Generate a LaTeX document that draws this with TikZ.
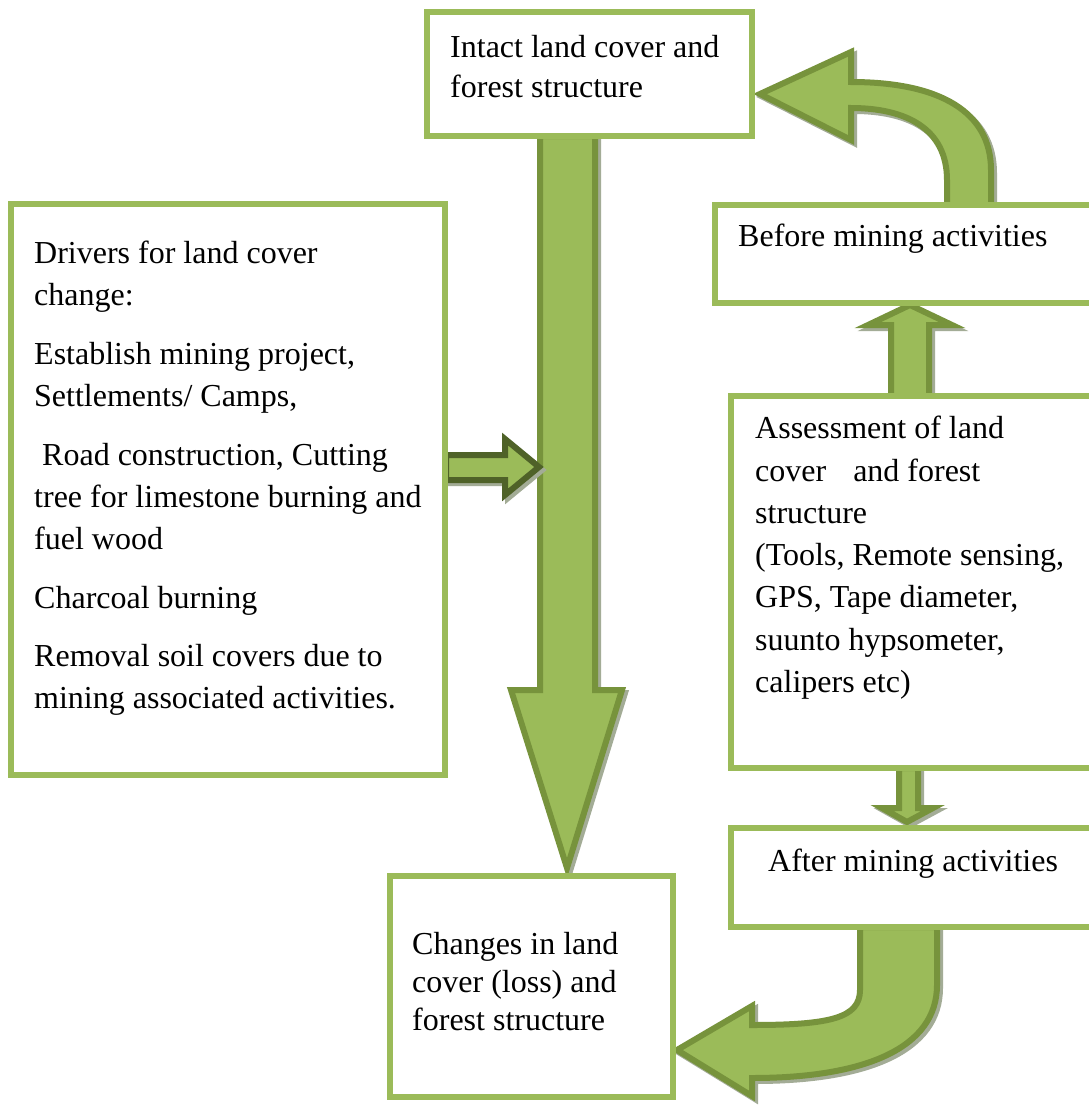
\documentclass[tikz,border=0pt]{standalone}
\usepackage{fontspec}
\setmainfont{Liberation Serif}
\definecolor{boxgreen}{HTML}{9BBB59}
\definecolor{arrowfill}{HTML}{9BBB59}
\definecolor{arrowline}{HTML}{77933C}
\definecolor{arrowdark}{HTML}{4F6228}
\definecolor{shadowgray}{HTML}{A3AC96}
\tikzset{
  box/.style={draw=boxgreen, line width=6.5pt, fill=white, rectangle, inner sep=0pt},
  blockarrow/.style={fill=arrowfill, draw=arrowline, line width=6pt, line join=miter},
  darkarrow/.style={fill=arrowfill, draw=arrowdark, line width=6pt, line join=miter},
  arrowshadow/.style={fill=shadowgray, draw=shadowgray, line width=6pt, line join=miter, shift={(3,3)}},
  txt/.style={inner sep=0pt, align=left, anchor=north west, text=black},
}
\begin{document}
\begin{tikzpicture}[x=1pt, y=-1pt]
\useasboundingbox (0,0) rectangle (1089,1106);
\clip (0,0) rectangle (1089,1106);
\fill[white] (0,0) rectangle (1089,1106);

% big down arrow (Intact -> Changes)
\draw[arrowshadow] (540,136) -- (540,690) -- (511,690) -- (567,868) -- (622,690) -- (595,690) -- (595,136) -- cycle;
\draw[blockarrow] (540,136) -- (540,690) -- (511,690) -- (567,868) -- (622,690) -- (595,690) -- (595,136) -- cycle;

% right arrow (Drivers -> big arrow)
\draw[arrowshadow] (446,455) -- (505,455) -- (505,439) -- (539,467) -- (505,495) -- (505,480) -- (446,480) -- cycle;
\draw[darkarrow] (446,455) -- (505,455) -- (505,439) -- (539,467) -- (505,495) -- (505,480) -- (446,480) -- cycle;

% up arrow (Assessment -> Before)
\draw[arrowshadow] (891,396) -- (891,325) -- (868,325) -- (910,305) -- (952,325) -- (929,325) -- (929,396) -- cycle;
\draw[blockarrow] (891,396) -- (891,325) -- (868,325) -- (910,305) -- (952,325) -- (929,325) -- (929,396) -- cycle;

% down arrow (Assessment -> After)
\draw[arrowshadow] (899,768) -- (899,808) -- (882,808) -- (907,822) -- (933,808) -- (918,808) -- (918,768) -- cycle;
\draw[blockarrow] (899,768) -- (899,808) -- (882,808) -- (907,822) -- (933,808) -- (918,808) -- (918,768) -- cycle;

% curved arrow (Before -> Intact)
\draw[arrowshadow] (991,205) -- (991,170) .. controls (991,112) and (940,82) .. (851,82) -- (851,52) -- (760,94) -- (851,140) -- (851,108) .. controls (905,108) and (947,128) .. (947,180) -- (947,205) -- cycle;
\draw[blockarrow] (991,205) -- (991,170) .. controls (991,112) and (940,82) .. (851,82) -- (851,52) -- (760,94) -- (851,140) -- (851,108) .. controls (905,108) and (947,128) .. (947,180) -- (947,205) -- cycle;

% curved arrow (After -> Changes)
\draw[arrowshadow] (937,927) -- (937,985) .. controls (937,1048) and (865,1078) .. (752,1078) -- (752,1096) -- (677,1050) -- (752,1006) -- (752,1025) .. controls (830,1025) and (860,1018) .. (860,990) -- (860,927) -- cycle;
\draw[blockarrow] (937,927) -- (937,985) .. controls (937,1048) and (865,1078) .. (752,1078) -- (752,1096) -- (677,1050) -- (752,1006) -- (752,1025) .. controls (830,1025) and (860,1018) .. (860,990) -- (860,927) -- cycle;

% boxes
\node[box, minimum width=325pt, minimum height=124pt] (intact) at (589.5,74) {};
\node[box, minimum width=434pt, minimum height=571pt] (drivers) at (228,489.5) {};
\node[box, minimum width=385pt, minimum height=98pt] (before) at (907.5,254) {};
\node[box, minimum width=369pt, minimum height=372pt] (assess) at (915.5,582) {};
\node[box, minimum width=369pt, minimum height=99pt] (after) at (915.5,877.5) {};
\node[box, minimum width=283pt, minimum height=221pt] (changes) at (531.5,986.5) {};

% texts (top = first baseline - 22)
\node[txt, font=\fontsize{32}{40}\selectfont] (tintact) at (450,35) {Intact land cover and\\forest structure};
\node[txt, font=\fontsize{32}{42}\selectfont] (tdrivers) at (34,241) {Drivers for land cover\\change:\\[17pt]Establish mining project,\\Settlements/ Camps,\\[17pt]\hspace*{8pt}Road construction, Cutting\\tree for limestone burning and\\fuel wood\\[17pt]Charcoal burning\\[16pt]Removal soil covers due to\\mining associated activities.};
\node[txt, font=\fontsize{32}{42}\selectfont] (tbefore) at (738,224) {Before mining activities};
\node[txt, font=\fontsize{32}{42.3}\selectfont] (tassess) at (755,416) {Assessment of land\\cover\hspace{27pt}and forest\\structure\\(Tools, Remote sensing,\\GPS, Tape diameter,\\suunto hypsometer,\\calipers etc)};
\node[txt, font=\fontsize{32}{42}\selectfont] (tafter) at (768,849) {After mining activities};
\node[txt, font=\fontsize{32}{38}\selectfont] (tchanges) at (412,932) {Changes in land\\cover (loss) and\\forest structure};
\end{tikzpicture}
\end{document}
